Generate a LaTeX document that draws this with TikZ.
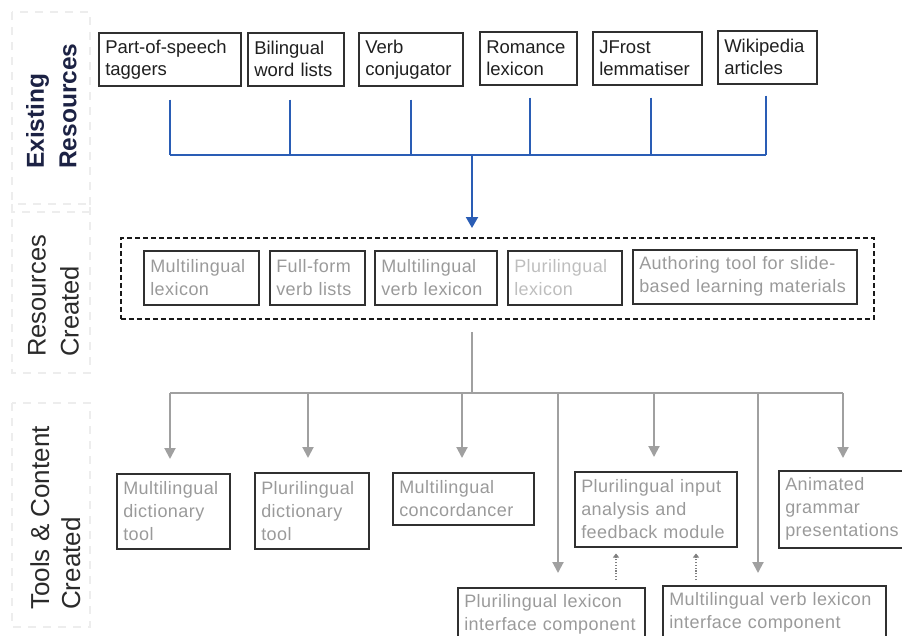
\documentclass[tikz,border=0pt]{standalone}
\usepackage{fontspec}
\setmainfont{Liberation Sans}
\newfontfamily\softfont[LetterSpace=2.5]{Liberation Sans}
\usetikzlibrary{arrows.meta}

\definecolor{navy}{HTML}{1C2244}
\definecolor{linkblue}{HTML}{2A5DB5}
\definecolor{boxline}{HTML}{303030}
\definecolor{softtext}{HTML}{9A9A9A}
\definecolor{paletext}{HTML}{BEBEBE}
\definecolor{connector}{HTML}{A0A0A0}
\definecolor{framegray}{HTML}{EDEDED}
\definecolor{labeltext}{HTML}{2A2A2A}

\begin{document}
\begin{tikzpicture}[x=1pt,y=-1pt,
  box/.style={draw=boxline, line width=1.5pt, anchor=north west,
    inner xsep=6.5pt, inner ysep=0pt, align=left},
  srcbox/.style={box, text=black!88, font=\fontsize{18.5}{22}\selectfont},
  newbox/.style={box, text=softtext, font=\softfont\fontsize{18}{23}\selectfont},
  sidelabel/.style={rotate=90, anchor=north west, align=left, inner sep=0pt},
  sideframe/.style={draw=framegray, line width=1.3pt, dash pattern=on 8pt off 7pt},
  groupframe/.style={draw=black!90, line width=1.8pt, dash pattern=on 5pt off 3pt,
    anchor=north west, inner sep=0pt},
  bluelink/.style={draw=linkblue, line width=2pt},
  bluearrow/.style={bluelink, -{Triangle[width=12pt,length=11pt]}},
  graylink/.style={draw=connector, line width=2pt},
  grayarrow/.style={graylink, -{Triangle[width=11pt,length=11pt]}},
  dotarrow/.style={draw=connector!80!black, line width=1.8pt,
    dash pattern=on 1.2pt off 1.6pt, -{Triangle[width=6pt,length=4pt]}}
]
\useasboundingbox (0,0) rectangle (902,635);
\clip (0,0) rectangle (902,635);

% side frames and row labels
\draw[sideframe] (12,12) rectangle (90,212);
\draw[sideframe] (12,204) rectangle (90,373);
\draw[sideframe] (12,403) rectangle (90,627);

\node[sidelabel, text=navy, font=\bfseries\fontsize{24.5}{32.5}\selectfont]
  (labexist) at (26,169) {Existing\\Resources};
\node[sidelabel, text=labeltext, font=\fontsize{25.5}{33}\selectfont]
  (labres) at (28,357) {Resources\\Created};
\node[sidelabel, text=labeltext, font=\fontsize{26}{31}\selectfont]
  (labtools) at (30,610) {Tools \& Content\\Created};

% existing resources
\node[srcbox, text width=129pt, minimum height=53pt] (pos)  at (98,32)  {Part-of-speech\\taggers};
\node[srcbox, text width=83pt,  minimum height=53pt] (bil)  at (247,32) {Bilingual\\word lists};
\node[srcbox, text width=91pt,  minimum height=53pt] (verb) at (358,32) {Verb\\conjugator};
\node[srcbox, text width=84pt,  minimum height=53pt] (rom)  at (479,31) {Romance\\lexicon};
\node[srcbox, text width=96pt,  minimum height=53pt] (jfr)  at (592,31) {JFrost\\lemmatiser};
\node[srcbox, text width=86pt,  minimum height=53pt] (wiki) at (717,30) {Wikipedia\\articles};

% blue collector
\coordinate (hubtop) at (472,155);
\coordinate (busY) at (0,155);
\draw[bluelink] ([yshift=-13pt]pos.south) -- (pos.south |- busY);
\draw[bluelink] ([xshift=-6pt,yshift=-13pt]bil.south) -- ([xshift=-6pt]bil.south |- busY);
\draw[bluelink] ([yshift=-13pt]verb.south) -- (verb.south |- busY);
\draw[bluelink] ([xshift=1.5pt,yshift=-12pt]rom.south) -- ([xshift=1.5pt]rom.south |- busY);
\draw[bluelink] ([xshift=3.5pt,yshift=-12pt]jfr.south) -- ([xshift=3.5pt]jfr.south |- busY);
\draw[bluelink] ([xshift=-1.5pt,yshift=-11pt]wiki.south) -- ([xshift=-1.5pt]wiki.south |- busY);
\draw[bluelink] (pos.south |- busY) -- ([xshift=-1.5pt]wiki.south |- busY);

% resources created
\node[groupframe, minimum width=753pt, minimum height=81pt] (rc) at (120,237) {};
\draw[bluearrow] (hubtop) -- ([yshift=9pt]rc.north -| hubtop);

\node[newbox, text width=102pt, minimum height=54pt] (ml)   at (143,250) {Multilingual\\lexicon};
\node[newbox, text width=82pt,  minimum height=54pt] (ff)   at (269,250) {Full-form\\verb lists};
\node[newbox, text width=109pt, minimum height=54pt] (mvl)  at (374,250) {Multilingual\\verb lexicon};
\node[newbox, text width=101pt, minimum height=54pt, text=paletext] (pl) at (507,250) {Plurilingual\\lexicon};
\node[newbox, text width=211pt, minimum height=54pt] (auth) at (632,249) {Authoring tool for slide-\\based learning materials};

% tools and content created
\node[newbox, text width=100pt, minimum height=75pt] (mdt)   at (116,473) {Multilingual\\dictionary\\tool};
\node[newbox, text width=101pt, minimum height=76pt] (pdt)   at (254,472) {Plurilingual\\dictionary\\tool};
\node[newbox, text width=128pt, minimum height=52pt] (conc)  at (392,472) {Multilingual\\concordancer};
\node[newbox, text width=149pt, minimum height=75pt] (input) at (574,471) {Plurilingual input\\analysis and\\feedback module};
\node[newbox, text width=115pt, minimum height=77pt] (anim)  at (778,470) {Animated\\grammar\\presentations};
\node[newbox, text width=174pt, minimum height=54pt] (plci)  at (457,587) {Plurilingual lexicon\\interface component};
\node[newbox, text width=210pt, minimum height=54pt] (mvli)  at (662,585) {Multilingual verb lexicon\\interface component};

% gray distribution
\coordinate (hub) at (472,393);
\coordinate (t1) at (170,393);
\coordinate (t2) at (308,393);
\coordinate (t3) at (462,393);
\coordinate (t4) at (558,393);
\coordinate (t5) at (654,393);
\coordinate (t6) at (758,393);
\coordinate (t7) at (843,393);
\draw[graylink] ([yshift=-12pt]rc.south -| hub) -- (hub);
\draw[graylink] (t1) -- (t7);
\draw[grayarrow] (t1) -- ([yshift=14pt]mdt.north -| t1);
\draw[grayarrow] (t2) -- ([yshift=14pt]pdt.north -| t2);
\draw[grayarrow] (t3) -- ([yshift=14pt]conc.north -| t3);
\draw[grayarrow] (t4) -- ([yshift=14pt]plci.north -| t4);
\draw[grayarrow] (t5) -- ([yshift=14pt]input.north -| t5);
\draw[grayarrow] (t6) -- ([yshift=12pt]mvli.north -| t6);
\draw[grayarrow] (t7) -- ([yshift=12pt]anim.north -| t7);

% interface components feeding the input module
\coordinate (d1) at (616,0);
\coordinate (d2) at (696,0);
\draw[dotarrow] ([yshift=7pt]plci.north -| d1) -- ([yshift=-6pt]input.south -| d1);
\draw[dotarrow] ([yshift=5pt]mvli.north -| d2) -- ([yshift=-6pt]input.south -| d2);
\end{tikzpicture}
\end{document}
